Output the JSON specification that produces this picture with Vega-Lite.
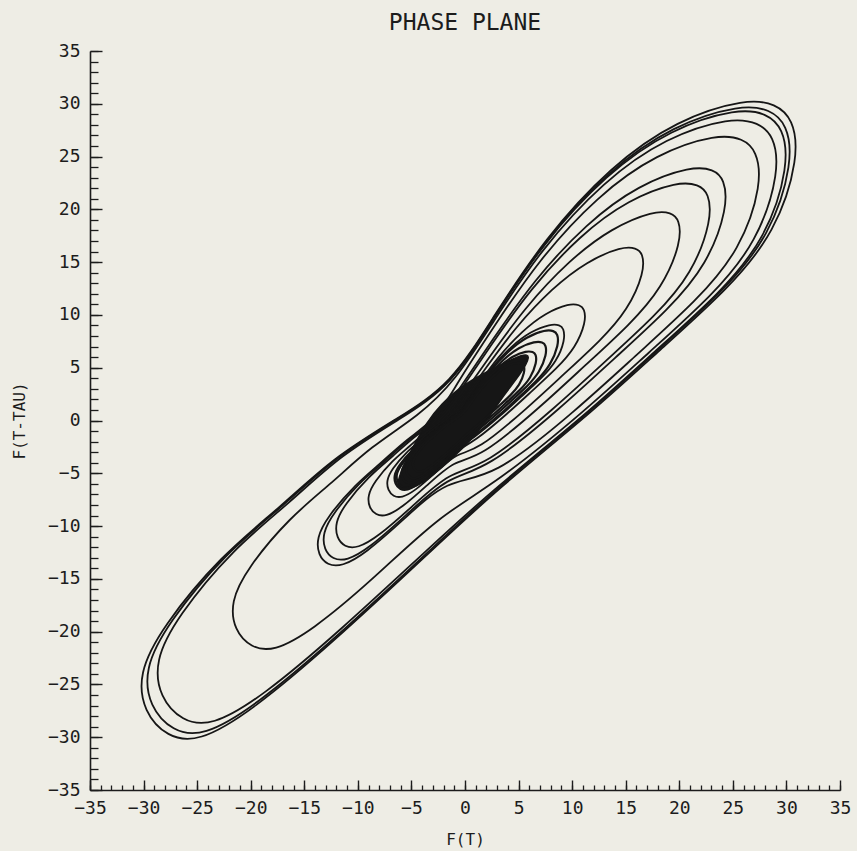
{
  "$schema": "https://vega.github.io/schema/vega-lite/v6.json",
  "width": 750,
  "height": 739,
  "autosize": "none",
  "padding": {"left": 90, "top": 51, "right": 17, "bottom": 61},
  "background": "#eeede5",
  "config": {"view": {"stroke": null}, "font": "DejaVu Sans Mono"},
  "title": {"text": "PHASE PLANE", "fontSize": 23, "fontWeight": "normal", "font": "DejaVu Sans Mono", "color": "#1c1c1c", "offset": 7},
  "datasets": {
    "blob": [
      {"i":0,"x":-6.6,"y":-6.6},{"i":1,"x":-5.9,"y":-4.6},{"i":2,"x":-4.8,"y":-2.4},{"i":3,"x":-3.6,"y":-0.2},{"i":4,"x":-2.2,"y":1.6},{"i":5,"x":-0.4,"y":3.2},{"i":6,"x":1.6,"y":4.4},{"i":7,"x":3.6,"y":5.4},{"i":8,"x":5.4,"y":6.3},{"i":9,"x":6.2,"y":6.2},{"i":10,"x":5.2,"y":4.4},{"i":11,"x":3.6,"y":2.4},{"i":12,"x":2.2,"y":0.2},{"i":13,"x":0.6,"y":-1.8},{"i":14,"x":-1.2,"y":-3.6},{"i":15,"x":-3.0,"y":-5.2},{"i":16,"x":-4.8,"y":-6.5}
    ],
    "outer": [
      {"loop":"A1","i":0,"x":3.0,"y":-6.5},{"loop":"A1","i":1,"x":12.1,"y":1.0},{"loop":"A1","i":2,"x":18.2,"y":6.7},{"loop":"A1","i":3,"x":24.5,"y":12.4},{"loop":"A1","i":4,"x":29.0,"y":17.8},{"loop":"A1","i":5,"x":31.2,"y":25.0},{"loop":"A1","i":6,"x":30.6,"y":28.6},{"loop":"A1","i":7,"x":29.0,"y":30.0},{"loop":"A1","i":8,"x":26.3,"y":30.5},{"loop":"A1","i":9,"x":19.8,"y":28.5},{"loop":"A1","i":10,"x":13.6,"y":24.1},{"loop":"A1","i":11,"x":7.4,"y":17.2},{"loop":"A1","i":12,"x":2.7,"y":9.9},{"loop":"A1","i":13,"x":-1.3,"y":3.4},{"loop":"A1","i":14,"x":-6.3,"y":0.2},{"loop":"A1","i":15,"x":-12.3,"y":-3.5},{"loop":"A1","i":16,"x":-17.2,"y":-8.2},{"loop":"A1","i":17,"x":-22.8,"y":-12.8},{"loop":"A1","i":18,"x":-28.3,"y":-19.6},{"loop":"A1","i":19,"x":-30.5,"y":-24.0},{"loop":"A1","i":20,"x":-30.0,"y":-27.6},{"loop":"A1","i":21,"x":-27.8,"y":-30.0},{"loop":"A1","i":22,"x":-24.9,"y":-30.5},{"loop":"A1","i":23,"x":-20.0,"y":-27.6},{"loop":"A1","i":24,"x":-12.3,"y":-21.0},{"loop":"A1","i":25,"x":-3.2,"y":-12.4},
      {"loop":"A2","i":0,"x":2.95,"y":-6.38},{"loop":"A2","i":1,"x":11.88,"y":0.98},{"loop":"A2","i":2,"x":17.87,"y":6.58},{"loop":"A2","i":3,"x":24.06,"y":12.18},{"loop":"A2","i":4,"x":28.48,"y":17.48},{"loop":"A2","i":5,"x":30.64,"y":24.55},{"loop":"A2","i":6,"x":30.05,"y":28.09},{"loop":"A2","i":7,"x":28.48,"y":29.46},{"loop":"A2","i":8,"x":25.83,"y":29.95},{"loop":"A2","i":9,"x":19.44,"y":27.99},{"loop":"A2","i":10,"x":13.36,"y":23.67},{"loop":"A2","i":11,"x":7.27,"y":16.89},{"loop":"A2","i":12,"x":2.65,"y":9.72},{"loop":"A2","i":13,"x":-1.28,"y":3.34},{"loop":"A2","i":14,"x":-6.19,"y":0.2},{"loop":"A2","i":15,"x":-12.08,"y":-3.44},{"loop":"A2","i":16,"x":-16.89,"y":-8.05},{"loop":"A2","i":17,"x":-22.39,"y":-12.57},{"loop":"A2","i":18,"x":-27.79,"y":-19.25},{"loop":"A2","i":19,"x":-29.95,"y":-23.57},{"loop":"A2","i":20,"x":-29.46,"y":-27.1},{"loop":"A2","i":21,"x":-27.3,"y":-29.46},{"loop":"A2","i":22,"x":-24.45,"y":-29.95},{"loop":"A2","i":23,"x":-19.64,"y":-27.1},{"loop":"A2","i":24,"x":-12.08,"y":-20.62},{"loop":"A2","i":25,"x":-3.14,"y":-12.18},
      {"loop":"A3","i":0,"x":2.91,"y":-6.31},{"loop":"A3","i":1,"x":11.74,"y":0.97},{"loop":"A3","i":2,"x":17.65,"y":6.5},{"loop":"A3","i":3,"x":23.77,"y":12.03},{"loop":"A3","i":4,"x":28.13,"y":17.27},{"loop":"A3","i":5,"x":30.26,"y":24.25},{"loop":"A3","i":6,"x":29.68,"y":27.74},{"loop":"A3","i":7,"x":28.13,"y":29.1},{"loop":"A3","i":8,"x":25.51,"y":29.59},{"loop":"A3","i":9,"x":19.21,"y":27.65},{"loop":"A3","i":10,"x":13.19,"y":23.38},{"loop":"A3","i":11,"x":7.18,"y":16.68},{"loop":"A3","i":12,"x":2.62,"y":9.6},{"loop":"A3","i":13,"x":-1.26,"y":3.3},{"loop":"A3","i":14,"x":-5.99,"y":0.19},{"loop":"A3","i":15,"x":-11.69,"y":-3.33},{"loop":"A3","i":16,"x":-16.34,"y":-7.79},{"loop":"A3","i":17,"x":-21.66,"y":-12.16},{"loop":"A3","i":18,"x":-26.89,"y":-18.62},{"loop":"A3","i":19,"x":-28.98,"y":-22.8},{"loop":"A3","i":20,"x":-28.5,"y":-26.22},{"loop":"A3","i":21,"x":-26.41,"y":-28.5},{"loop":"A3","i":22,"x":-23.66,"y":-28.98},{"loop":"A3","i":23,"x":-19.0,"y":-26.22},{"loop":"A3","i":24,"x":-11.69,"y":-19.95},{"loop":"A3","i":25,"x":-3.04,"y":-11.78}
    ],
    "inner": [
      {"loop":"B1","i":0,"x":2.76,"y":-6.07},{"loop":"B1","i":1,"x":11.35,"y":1.03},{"loop":"B1","i":2,"x":17.12,"y":6.42},{"loop":"B1","i":3,"x":23.07,"y":11.81},{"loop":"B1","i":4,"x":27.3,"y":16.9},{"loop":"B1","i":5,"x":29.4,"y":23.67},{"loop":"B1","i":6,"x":28.8,"y":27.0},{"loop":"B1","i":7,"x":27.4,"y":28.2},{"loop":"B1","i":8,"x":24.88,"y":28.75},{"loop":"B1","i":9,"x":18.78,"y":26.85},{"loop":"B1","i":10,"x":12.93,"y":22.69},{"loop":"B1","i":11,"x":7.06,"y":16.18},{"loop":"B1","i":12,"x":2.6,"y":9.3},{"loop":"B1","i":13,"x":-0.91,"y":3.75},{"loop":"B1","i":14,"x":-4.32,"y":0.44},{"loop":"B1","i":15,"x":-8.83,"y":-2.49},{"loop":"B1","i":16,"x":-12.35,"y":-5.87},{"loop":"B1","i":17,"x":-16.36,"y":-9.16},{"loop":"B1","i":18,"x":-20.36,"y":-14.04},{"loop":"B1","i":19,"x":-21.89,"y":-17.19},{"loop":"B1","i":20,"x":-21.53,"y":-19.87},{"loop":"B1","i":21,"x":-19.99,"y":-21.53},{"loop":"B1","i":22,"x":-17.85,"y":-21.89},{"loop":"B1","i":23,"x":-14.33,"y":-19.93},{"loop":"B1","i":24,"x":-8.81,"y":-15.27},{"loop":"B1","i":25,"x":-2.28,"y":-8.9},
      {"loop":"B2","i":0,"x":2.47,"y":-5.6},{"loop":"B2","i":1,"x":10.58,"y":1.14},{"loop":"B2","i":2,"x":16.02,"y":6.24},{"loop":"B2","i":3,"x":21.63,"y":11.35},{"loop":"B2","i":4,"x":25.7,"y":16.15},{"loop":"B2","i":5,"x":27.75,"y":22.47},{"loop":"B2","i":6,"x":27.2,"y":25.6},{"loop":"B2","i":7,"x":25.95,"y":26.7},{"loop":"B2","i":8,"x":23.59,"y":27.15},{"loop":"B2","i":9,"x":17.89,"y":25.3},{"loop":"B2","i":10,"x":12.39,"y":21.31},{"loop":"B2","i":11,"x":6.83,"y":15.17},{"loop":"B2","i":12,"x":2.57,"y":8.69},{"loop":"B2","i":13,"x":-0.79,"y":3.47},{"loop":"B2","i":14,"x":-2.63,"y":0.15},{"loop":"B2","i":15,"x":-5.47,"y":-1.77},{"loop":"B2","i":16,"x":-7.71,"y":-3.93},{"loop":"B2","i":17,"x":-10.25,"y":-6.05},{"loop":"B2","i":18,"x":-12.85,"y":-9.13},{"loop":"B2","i":19,"x":-13.85,"y":-11.11},{"loop":"B2","i":20,"x":-13.7,"y":-12.75},{"loop":"B2","i":21,"x":-12.85,"y":-13.7},{"loop":"B2","i":22,"x":-11.51,"y":-13.85},{"loop":"B2","i":23,"x":-9.3,"y":-12.6},{"loop":"B2","i":24,"x":-5.8,"y":-9.46},{"loop":"B2","i":25,"x":-1.64,"y":-5.5},
      {"loop":"B3","i":0,"x":1.93,"y":-4.72},{"loop":"B3","i":1,"x":9.11,"y":1.34},{"loop":"B3","i":2,"x":13.96,"y":5.91},{"loop":"B3","i":3,"x":18.96,"y":10.49},{"loop":"B3","i":4,"x":22.6,"y":14.74},{"loop":"B3","i":5,"x":24.55,"y":20.23},{"loop":"B3","i":6,"x":24.2,"y":22.9},{"loop":"B3","i":7,"x":23.2,"y":23.8},{"loop":"B3","i":8,"x":21.17,"y":24.1},{"loop":"B3","i":9,"x":16.22,"y":22.35},{"loop":"B3","i":10,"x":11.37,"y":18.72},{"loop":"B3","i":11,"x":6.39,"y":13.25},{"loop":"B3","i":12,"x":2.51,"y":7.55},{"loop":"B3","i":13,"x":-0.55,"y":2.95},{"loop":"B3","i":14,"x":-2.51,"y":0.13},{"loop":"B3","i":15,"x":-5.24,"y":-1.72},{"loop":"B3","i":16,"x":-7.39,"y":-3.79},{"loop":"B3","i":17,"x":-9.83,"y":-5.83},{"loop":"B3","i":18,"x":-12.33,"y":-8.79},{"loop":"B3","i":19,"x":-13.3,"y":-10.68},{"loop":"B3","i":20,"x":-13.15,"y":-12.25},{"loop":"B3","i":21,"x":-12.35,"y":-13.15},{"loop":"B3","i":22,"x":-11.06,"y":-13.3},{"loop":"B3","i":23,"x":-8.95,"y":-12.1},{"loop":"B3","i":24,"x":-5.59,"y":-9.07},{"loop":"B3","i":25,"x":-1.59,"y":-5.27},
      {"loop":"B4","i":0,"x":1.78,"y":-4.4},{"loop":"B4","i":1,"x":8.52,"y":1.3},{"loop":"B4","i":2,"x":13.08,"y":5.6},{"loop":"B4","i":3,"x":17.77,"y":9.91},{"loop":"B4","i":4,"x":21.2,"y":13.9},{"loop":"B4","i":5,"x":23.05,"y":19.04},{"loop":"B4","i":6,"x":22.75,"y":21.55},{"loop":"B4","i":7,"x":21.8,"y":22.35},{"loop":"B4","i":8,"x":19.92,"y":22.65},{"loop":"B4","i":9,"x":15.28,"y":20.95},{"loop":"B4","i":10,"x":10.73,"y":17.55},{"loop":"B4","i":11,"x":6.04,"y":12.41},{"loop":"B4","i":12,"x":2.39,"y":7.07},{"loop":"B4","i":13,"x":-0.5,"y":2.75},{"loop":"B4","i":14,"x":-2.3,"y":0.14},{"loop":"B4","i":15,"x":-4.79,"y":-1.53},{"loop":"B4","i":16,"x":-6.75,"y":-3.42},{"loop":"B4","i":17,"x":-8.97,"y":-5.27},{"loop":"B4","i":18,"x":-11.25,"y":-7.97},{"loop":"B4","i":19,"x":-12.12,"y":-9.69},{"loop":"B4","i":20,"x":-11.98,"y":-11.12},{"loop":"B4","i":21,"x":-11.25,"y":-11.98},{"loop":"B4","i":22,"x":-10.04,"y":-12.12},{"loop":"B4","i":23,"x":-8.11,"y":-11.0},{"loop":"B4","i":24,"x":-5.05,"y":-8.27},{"loop":"B4","i":25,"x":-1.42,"y":-4.82},
      {"loop":"B5","i":0,"x":1.31,"y":-3.63},{"loop":"B5","i":1,"x":7.22,"y":1.44},{"loop":"B5","i":2,"x":11.22,"y":5.24},{"loop":"B5","i":3,"x":15.35,"y":9.05},{"loop":"B5","i":4,"x":18.4,"y":12.54},{"loop":"B5","i":5,"x":20.2,"y":16.93},{"loop":"B5","i":6,"x":20.0,"y":19.05},{"loop":"B5","i":7,"x":19.25,"y":19.7},{"loop":"B5","i":8,"x":17.65,"y":19.88},{"loop":"B5","i":9,"x":13.69,"y":18.25},{"loop":"B5","i":10,"x":9.73,"y":15.19},{"loop":"B5","i":11,"x":5.58,"y":10.68},{"loop":"B5","i":12,"x":2.29,"y":6.03},{"loop":"B5","i":13,"x":-0.31,"y":2.29},{"loop":"B5","i":14,"x":-1.79,"y":0.19},{"loop":"B5","i":15,"x":-3.67,"y":-1.03},{"loop":"B5","i":16,"x":-5.12,"y":-2.42},{"loop":"B5","i":17,"x":-6.79,"y":-3.79},{"loop":"B5","i":18,"x":-8.46,"y":-5.81},{"loop":"B5","i":19,"x":-9.1,"y":-7.12},{"loop":"B5","i":20,"x":-8.95,"y":-8.26},{"loop":"B5","i":21,"x":-8.34,"y":-8.95},{"loop":"B5","i":22,"x":-7.39,"y":-9.1},{"loop":"B5","i":23,"x":-5.93,"y":-8.28},{"loop":"B5","i":24,"x":-3.65,"y":-6.26},{"loop":"B5","i":25,"x":-0.94,"y":-3.7},
      {"loop":"B6","i":0,"x":1.04,"y":-2.95},{"loop":"B6","i":1,"x":5.92,"y":1.26},{"loop":"B6","i":2,"x":9.24,"y":4.41},{"loop":"B6","i":3,"x":12.65,"y":7.57},{"loop":"B6","i":4,"x":15.2,"y":10.46},{"loop":"B6","i":5,"x":16.75,"y":14.07},{"loop":"B6","i":6,"x":16.6,"y":15.85},{"loop":"B6","i":7,"x":15.98,"y":16.35},{"loop":"B6","i":8,"x":14.65,"y":16.48},{"loop":"B6","i":9,"x":11.4,"y":15.1},{"loop":"B6","i":10,"x":8.13,"y":12.54},{"loop":"B6","i":11,"x":4.68,"y":8.8},{"loop":"B6","i":12,"x":1.94,"y":4.96},{"loop":"B6","i":13,"x":-0.23,"y":1.87},{"loop":"B6","i":14,"x":-1.47,"y":0.18},{"loop":"B6","i":15,"x":-2.98,"y":-0.78},{"loop":"B6","i":16,"x":-4.15,"y":-1.9},{"loop":"B6","i":17,"x":-5.49,"y":-2.99},{"loop":"B6","i":18,"x":-6.84,"y":-4.62},{"loop":"B6","i":19,"x":-7.33,"y":-5.68},{"loop":"B6","i":20,"x":-7.2,"y":-6.6},{"loop":"B6","i":21,"x":-6.7,"y":-7.2},{"loop":"B6","i":22,"x":-5.9,"y":-7.33},{"loop":"B6","i":23,"x":-4.71,"y":-6.69},{"loop":"B6","i":24,"x":-2.87,"y":-5.05},{"loop":"B6","i":25,"x":-0.71,"y":-3.01},
      {"loop":"B7","i":0,"x":0.79,"y":-2.07},{"loop":"B7","i":1,"x":4.07,"y":0.74},{"loop":"B7","i":2,"x":6.28,"y":2.83},{"loop":"B7","i":3,"x":8.57,"y":4.94},{"loop":"B7","i":4,"x":10.3,"y":6.88},{"loop":"B7","i":5,"x":11.3,"y":9.34},{"loop":"B7","i":6,"x":11.15,"y":10.6},{"loop":"B7","i":7,"x":10.7,"y":10.95},{"loop":"B7","i":8,"x":9.75,"y":11.1},{"loop":"B7","i":9,"x":7.53,"y":10.2},{"loop":"B7","i":10,"x":5.33,"y":8.48},{"loop":"B7","i":11,"x":3.03,"y":5.97},{"loop":"B7","i":12,"x":1.23,"y":3.39},{"loop":"B7","i":13,"x":-0.2,"y":1.3},{"loop":"B7","i":14,"x":-1.31,"y":0.14},{"loop":"B7","i":15,"x":-2.68,"y":-0.74},{"loop":"B7","i":16,"x":-3.75,"y":-1.77},{"loop":"B7","i":17,"x":-4.96,"y":-2.76},{"loop":"B7","i":18,"x":-6.22,"y":-4.25},{"loop":"B7","i":19,"x":-6.66,"y":-5.2},{"loop":"B7","i":20,"x":-6.55,"y":-6.05},{"loop":"B7","i":21,"x":-6.1,"y":-6.55},{"loop":"B7","i":22,"x":-5.4,"y":-6.66},{"loop":"B7","i":23,"x":-4.33,"y":-6.08},{"loop":"B7","i":24,"x":-2.65,"y":-4.57},{"loop":"B7","i":25,"x":-0.68,"y":-2.7},
      {"loop":"B8","i":0,"x":0.71,"y":-1.76},{"loop":"B8","i":1,"x":3.41,"y":0.53},{"loop":"B8","i":2,"x":5.25,"y":2.26},{"loop":"B8","i":3,"x":7.12,"y":3.98},{"loop":"B8","i":4,"x":8.55,"y":5.58},{"loop":"B8","i":5,"x":9.35,"y":7.65},{"loop":"B8","i":6,"x":9.2,"y":8.75},{"loop":"B8","i":7,"x":8.85,"y":9.05},{"loop":"B8","i":8,"x":8.0,"y":9.15},{"loop":"B8","i":9,"x":6.14,"y":8.45},{"loop":"B8","i":10,"x":4.31,"y":7.04},{"loop":"B8","i":11,"x":2.43,"y":4.97},{"loop":"B8","i":12,"x":0.96,"y":2.84},{"loop":"B8","i":13,"x":-0.2,"y":1.1},{"loop":"B8","i":14,"x":-1.23,"y":0.09},{"loop":"B8","i":15,"x":-2.54,"y":-0.78},{"loop":"B8","i":16,"x":-3.57,"y":-1.77},{"loop":"B8","i":17,"x":-4.74,"y":-2.74},{"loop":"B8","i":18,"x":-5.96,"y":-4.16},{"loop":"B8","i":19,"x":-6.42,"y":-5.07},{"loop":"B8","i":20,"x":-6.33,"y":-5.87},{"loop":"B8","i":21,"x":-5.92,"y":-6.33},{"loop":"B8","i":22,"x":-5.26,"y":-6.42},{"loop":"B8","i":23,"x":-4.24,"y":-5.84},{"loop":"B8","i":24,"x":-2.63,"y":-4.37},{"loop":"B8","i":25,"x":-0.72,"y":-2.56}
    ],
    "core": [
      {"loop":"C1","i":0,"x":0.67,"y":-1.65},{"loop":"C1","i":1,"x":3.21,"y":0.5},{"loop":"C1","i":2,"x":4.94,"y":2.12},{"loop":"C1","i":3,"x":6.69,"y":3.74},{"loop":"C1","i":4,"x":8.0,"y":5.25},{"loop":"C1","i":5,"x":8.75,"y":7.19},{"loop":"C1","i":6,"x":8.65,"y":8.2},{"loop":"C1","i":7,"x":8.3,"y":8.5},{"loop":"C1","i":8,"x":7.52,"y":8.6},{"loop":"C1","i":9,"x":5.77,"y":7.95},{"loop":"C1","i":10,"x":4.05,"y":6.62},{"loop":"C1","i":11,"x":2.28,"y":4.67},{"loop":"C1","i":12,"x":0.9,"y":2.67},{"loop":"C1","i":13,"x":-0.19,"y":1.03},{"loop":"C1","i":14,"x":-1.28,"y":0.09},{"loop":"C1","i":15,"x":-2.64,"y":-0.81},{"loop":"C1","i":16,"x":-3.71,"y":-1.84},{"loop":"C1","i":17,"x":-4.93,"y":-2.85},{"loop":"C1","i":18,"x":-6.09,"y":-4.33},{"loop":"C1","i":19,"x":-6.54,"y":-5.27},{"loop":"C1","i":20,"x":-6.45,"y":-5.97},{"loop":"C1","i":21,"x":-6.04,"y":-6.46},{"loop":"C1","i":22,"x":-5.47,"y":-6.55},{"loop":"C1","i":23,"x":-4.41,"y":-5.97},{"loop":"C1","i":24,"x":-2.74,"y":-4.54},{"loop":"C1","i":25,"x":-0.75,"y":-2.66},
      {"loop":"C2","i":0,"x":0.58,"y":-1.44},{"loop":"C2","i":1,"x":2.8,"y":0.43},{"loop":"C2","i":2,"x":4.31,"y":1.85},{"loop":"C2","i":3,"x":5.84,"y":3.26},{"loop":"C2","i":4,"x":6.98,"y":4.58},{"loop":"C2","i":5,"x":7.62,"y":6.27},{"loop":"C2","i":6,"x":7.55,"y":7.15},{"loop":"C2","i":7,"x":7.25,"y":7.42},{"loop":"C2","i":8,"x":6.56,"y":7.5},{"loop":"C2","i":9,"x":5.03,"y":6.95},{"loop":"C2","i":10,"x":3.53,"y":5.77},{"loop":"C2","i":11,"x":1.99,"y":4.08},{"loop":"C2","i":12,"x":0.79,"y":2.33},{"loop":"C2","i":13,"x":-0.16,"y":0.9},{"loop":"C2","i":14,"x":-1.17,"y":0.09},{"loop":"C2","i":15,"x":-2.41,"y":-0.74},{"loop":"C2","i":16,"x":-3.39,"y":-1.68},{"loop":"C2","i":17,"x":-4.5,"y":-2.6},{"loop":"C2","i":18,"x":-5.57,"y":-3.95},{"loop":"C2","i":19,"x":-5.98,"y":-4.82},{"loop":"C2","i":20,"x":-5.89,"y":-5.45},{"loop":"C2","i":21,"x":-5.52,"y":-5.9},{"loop":"C2","i":22,"x":-5.0,"y":-5.99},{"loop":"C2","i":23,"x":-4.03,"y":-5.45},{"loop":"C2","i":24,"x":-2.5,"y":-4.15},{"loop":"C2","i":25,"x":-0.68,"y":-2.43},
      {"loop":"C3","i":0,"x":0.51,"y":-1.27},{"loop":"C3","i":1,"x":2.46,"y":0.38},{"loop":"C3","i":2,"x":3.78,"y":1.63},{"loop":"C3","i":3,"x":5.13,"y":2.87},{"loop":"C3","i":4,"x":6.14,"y":4.02},{"loop":"C3","i":5,"x":6.7,"y":5.51},{"loop":"C3","i":6,"x":6.62,"y":6.28},{"loop":"C3","i":7,"x":6.36,"y":6.5},{"loop":"C3","i":8,"x":5.76,"y":6.6},{"loop":"C3","i":9,"x":4.42,"y":6.1},{"loop":"C3","i":10,"x":3.1,"y":5.07},{"loop":"C3","i":11,"x":1.75,"y":3.58},{"loop":"C3","i":12,"x":0.69,"y":2.04},{"loop":"C3","i":13,"x":-0.14,"y":0.79},{"loop":"C3","i":14,"x":-1.08,"y":0.08},{"loop":"C3","i":15,"x":-2.24,"y":-0.69},{"loop":"C3","i":16,"x":-3.14,"y":-1.56},{"loop":"C3","i":17,"x":-4.17,"y":-2.41},{"loop":"C3","i":18,"x":-5.16,"y":-3.66},{"loop":"C3","i":19,"x":-5.54,"y":-4.46},{"loop":"C3","i":20,"x":-5.46,"y":-5.05},{"loop":"C3","i":21,"x":-5.11,"y":-5.46},{"loop":"C3","i":22,"x":-4.63,"y":-5.54},{"loop":"C3","i":23,"x":-3.73,"y":-5.05},{"loop":"C3","i":24,"x":-2.31,"y":-3.85},{"loop":"C3","i":25,"x":-0.63,"y":-2.25},
      {"loop":"C4","i":0,"x":0.43,"y":-1.06},{"loop":"C4","i":1,"x":2.05,"y":0.32},{"loop":"C4","i":2,"x":3.15,"y":1.36},{"loop":"C4","i":3,"x":4.27,"y":2.39},{"loop":"C4","i":4,"x":5.1,"y":3.35},{"loop":"C4","i":5,"x":5.58,"y":4.59},{"loop":"C4","i":6,"x":5.52,"y":5.25},{"loop":"C4","i":7,"x":5.3,"y":5.43},{"loop":"C4","i":8,"x":4.8,"y":5.5},{"loop":"C4","i":9,"x":3.68,"y":5.08},{"loop":"C4","i":10,"x":2.59,"y":4.22},{"loop":"C4","i":11,"x":1.46,"y":2.98},{"loop":"C4","i":12,"x":0.58,"y":1.7},{"loop":"C4","i":13,"x":-0.12,"y":0.66},{"loop":"C4","i":14,"x":-0.96,"y":0.07},{"loop":"C4","i":15,"x":-1.98,"y":-0.61},{"loop":"C4","i":16,"x":-2.78,"y":-1.38},{"loop":"C4","i":17,"x":-3.7,"y":-2.14},{"loop":"C4","i":18,"x":-4.57,"y":-3.24},{"loop":"C4","i":19,"x":-4.91,"y":-3.95},{"loop":"C4","i":20,"x":-4.84,"y":-4.48},{"loop":"C4","i":21,"x":-4.53,"y":-4.84},{"loop":"C4","i":22,"x":-4.1,"y":-4.91},{"loop":"C4","i":23,"x":-3.31,"y":-4.48},{"loop":"C4","i":24,"x":-2.05,"y":-3.41},{"loop":"C4","i":25,"x":-0.56,"y":-2.0}
    ]
  },
  "layer": [
    {
      "data": {"name": "blob"},
      "mark": {"type": "line", "interpolate": "basis-closed", "filled": true, "fill": "#161616", "stroke": "#161616", "strokeWidth": 1.5},
      "encoding": {
        "x": {"field": "x", "type": "quantitative", "scale": {"domain": [-35, 35], "nice": false, "zero": false}, "axis": null},
        "y": {"field": "y", "type": "quantitative", "scale": {"domain": [-35, 35], "nice": false, "zero": false}, "axis": null},
        "order": {"field": "i", "type": "quantitative"}
      }
    },
    {
      "data": {"name": "outer"},
      "mark": {"type": "line", "interpolate": "basis-closed", "stroke": "#161616", "strokeWidth": 1.8},
      "encoding": {
        "x": {
          "field": "x", "type": "quantitative",
          "axis": {
            "orient": "bottom", "values": [-35,-30,-25,-20,-15,-10,-5,0,5,10,15,20,25,30,35],
            "ticks": false, "tickSize": 0,
            "domainColor": "#1c1c1c", "domainWidth": 1.6, "grid": false,
            "labelFont": "DejaVu Sans Mono", "labelFontSize": 18, "labelColor": "#1c1c1c",
            "labelPadding": 9, "labelFlush": false, "labelOverlap": false,
            "title": "F(T)", "titleFont": "DejaVu Sans Mono", "titleFontSize": 16, "titleFontWeight": "normal", "titleColor": "#1c1c1c", "titlePadding": 14
          }
        },
        "y": {
          "field": "y", "type": "quantitative",
          "axis": {
            "orient": "left", "values": [-35,-30,-25,-20,-15,-10,-5,0,5,10,15,20,25,30,35],
            "ticks": false, "tickSize": 0,
            "domainColor": "#1c1c1c", "domainWidth": 1.6, "grid": false,
            "labelFont": "DejaVu Sans Mono", "labelFontSize": 18, "labelColor": "#1c1c1c",
            "labelPadding": 10, "labelFlush": false, "labelOverlap": false,
            "title": "F(T-TAU)", "titleFont": "DejaVu Sans Mono", "titleFontSize": 16, "titleFontWeight": "normal", "titleColor": "#1c1c1c", "titlePadding": 20
          }
        },
        "detail": {"field": "loop", "type": "nominal"},
        "order": {"field": "i", "type": "quantitative"}
      }
    },
    {
      "data": {"name": "inner"},
      "mark": {"type": "line", "interpolate": "basis-closed", "stroke": "#161616", "strokeWidth": 1.8},
      "encoding": {
        "x": {
          "field": "x", "type": "quantitative",
          "axis": {
            "orient": "bottom", "values": [-35,-30,-25,-20,-15,-10,-5,0,5,10,15,20,25,30,35],
            "offset": -10, "tickSize": 10, "tickWidth": 1.4, "tickColor": "#1c1c1c",
            "domain": false, "labels": false, "grid": false, "title": null
          }
        },
        "y": {
          "field": "y", "type": "quantitative",
          "axis": {
            "orient": "left", "values": [-35,-30,-25,-20,-15,-10,-5,0,5,10,15,20,25,30,35],
            "offset": -12, "tickSize": 12, "tickWidth": 1.4, "tickColor": "#1c1c1c",
            "domain": false, "labels": false, "grid": false, "title": null
          }
        },
        "detail": {"field": "loop", "type": "nominal"},
        "order": {"field": "i", "type": "quantitative"}
      }
    },
    {
      "data": {"name": "core"},
      "mark": {"type": "line", "interpolate": "basis-closed", "stroke": "#161616", "strokeWidth": 2.2},
      "encoding": {
        "x": {
          "field": "x", "type": "quantitative",
          "axis": {
            "orient": "bottom",
            "values": [-35,-34,-33,-32,-31,-30,-29,-28,-27,-26,-25,-24,-23,-22,-21,-20,-19,-18,-17,-16,-15,-14,-13,-12,-11,-10,-9,-8,-7,-6,-5,-4,-3,-2,-1,0,1,2,3,4,5,6,7,8,9,10,11,12,13,14,15,16,17,18,19,20,21,22,23,24,25,26,27,28,29,30,31,32,33,34,35],
            "offset": -5, "tickSize": 5, "tickWidth": 1.3, "tickColor": "#1c1c1c",
            "domain": false, "labels": false, "grid": false, "title": null
          }
        },
        "y": {
          "field": "y", "type": "quantitative",
          "axis": {
            "orient": "left",
            "values": [-35,-34,-33,-32,-31,-30,-29,-28,-27,-26,-25,-24,-23,-22,-21,-20,-19,-18,-17,-16,-15,-14,-13,-12,-11,-10,-9,-8,-7,-6,-5,-4,-3,-2,-1,0,1,2,3,4,5,6,7,8,9,10,11,12,13,14,15,16,17,18,19,20,21,22,23,24,25,26,27,28,29,30,31,32,33,34,35],
            "offset": -8, "tickSize": 8, "tickWidth": 1.3, "tickColor": "#1c1c1c",
            "domain": false, "labels": false, "grid": false, "title": null
          }
        },
        "detail": {"field": "loop", "type": "nominal"},
        "order": {"field": "i", "type": "quantitative"}
      }
    }
  ],
  "resolve": {"axis": {"x": "independent", "y": "independent"}}
}
